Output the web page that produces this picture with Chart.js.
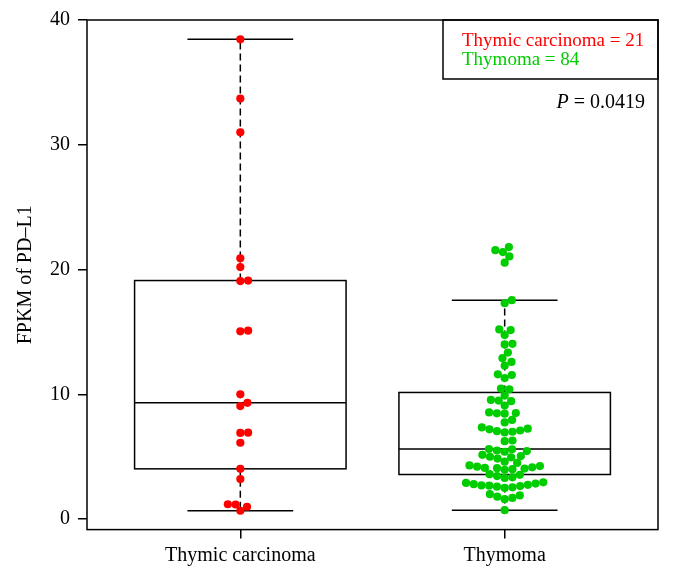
<!DOCTYPE html>
<html><head><meta charset="utf-8">
<script src="https://cdn.jsdelivr.net/npm/chart.js@4"></script>
<style>html,body{margin:0;padding:0;background:#fff}#wrap{width:673px;height:582px;position:relative}</style>
</head><body><div id="wrap"><canvas id="c" width="673" height="582"></canvas></div>
<script>
// ---- data ----
const categories = ["Thymic carcinoma", "Thymoma"];
const carcinomaValues = [38.45, 33.7, 31.0, 20.9, 20.2, 19.12, 19.08, 15.1, 15.05, 10.0,
  9.32, 9.06, 6.93, 6.91, 6.12, 4.03, 3.21, 1.19, 1.17, 0.99, 0.67];
const thymomaValues = [21.8, 21.55, 21.4, 21.05, 20.55,
  17.55, 17.3,
  15.2, 15.15, 14.75, 14.05, 14.0, 13.35, 12.9, 12.6, 12.3,
  11.6, 11.55, 11.3, 10.45, 10.4, 9.9, 9.55, 9.5, 9.45, 9.1,
  8.55, 8.5, 8.48, 8.45, 7.95, 7.75,
  7.35, 7.25, 7.2, 7.1, 7.05, 7.0, 6.95, 6.3, 6.25,
  5.62, 5.6, 5.5, 5.45, 5.4, 5.15, 5.05, 5.0, 4.95, 4.85, 4.6, 4.5,
  4.3, 4.25, 4.2, 4.15, 4.1, 4.08, 4.05, 4.0, 3.95,
  3.6, 3.55, 3.45, 3.35, 3.3,
  2.95, 2.9, 2.85, 2.8, 2.75, 2.7, 2.68, 2.65, 2.6, 2.55, 2.5,
  2.0, 1.9, 1.8, 1.7, 1.6, 0.72];
const yTicks = [0, 10, 20, 30, 40];
const legendLabels = ["Thymic carcinoma = 21", "Thymoma = 84"];
const pValue = "0.0419";
const yTitle = "FPKM of PD\u2013L1";

const groupColors = ["#ff0000", "#00cd00"];
const FONT = "'Liberation Serif', 'DejaVu Serif', serif";

function fivenum(arr) {
  const x = [...arr].sort((a, b) => a - b), n = x.length;
  const n4 = Math.floor((n + 3) / 2) / 2;
  const d = [1, n4, (n + 1) / 2, n + 1 - n4, n];
  return d.map(di => 0.5 * (x[Math.floor(di) - 1] + x[Math.ceil(di) - 1]));
}
function boxStats(arr) {
  const f = fivenum(arr), iqr = f[3] - f[1];
  const lo = Math.min(...arr.filter(v => v >= f[1] - 1.5 * iqr));
  const hi = Math.max(...arr.filter(v => v <= f[3] + 1.5 * iqr));
  return { lo, q1: f[1], med: f[2], q3: f[3], hi };
}
const groups = [carcinomaValues, thymomaValues];
const stats = groups.map(boxStats);

function swarm(values, yPix, d) {
  const order = values.map((v, i) => i).sort((a, b) => values[a] - values[b]);
  const placed = [], off = new Array(values.length);
  for (const i of order) {
    const y = yPix(values[i]);
    const near = placed.filter(p => Math.abs(p.y - y) < d);
    const cands = [0];
    near.forEach(p => cands.push(p.x + Math.sqrt(d * d - (p.y - y) ** 2)));
    near.forEach(p => cands.push(p.x - Math.sqrt(d * d - (p.y - y) ** 2)));
    let best = null;
    for (const c of cands) {
      const ok = near.every(p => (p.x - c) ** 2 + (p.y - y) ** 2 >= d * d - 1e-6);
      if (ok && (best === null || Math.abs(c) < Math.abs(best) - 1e-9)) best = c;
    }
    placed.push({ x: best, y });
    off[i] = best;
  }
  return off;
}

const boxPlugin = {
  id: 'boxes',
  beforeDatasetsDraw(chart) {
    const { ctx, scales: { x, y } } = chart;
    ctx.save();
    ctx.strokeStyle = '#000';
    ctx.lineWidth = 1.5;
    stats.forEach((s, i) => {
      const c = i + 1;
      const xc = x.getPixelForValue(c);
      const xl = x.getPixelForValue(c - 0.4), xr = x.getPixelForValue(c + 0.4);
      const sl = x.getPixelForValue(c - 0.2), sr = x.getPixelForValue(c + 0.2);
      const py = v => y.getPixelForValue(v);
      ctx.setLineDash([7, 4]);
      ctx.beginPath();
      ctx.moveTo(xc, py(s.q3)); ctx.lineTo(xc, py(s.hi));
      ctx.moveTo(xc, py(s.q1)); ctx.lineTo(xc, py(s.lo));
      ctx.stroke();
      ctx.setLineDash([]);
      ctx.beginPath();
      ctx.moveTo(sl, py(s.hi)); ctx.lineTo(sr, py(s.hi));
      ctx.moveTo(sl, py(s.lo)); ctx.lineTo(sr, py(s.lo));
      ctx.stroke();
      ctx.strokeRect(xl, py(s.q3), xr - xl, py(s.q1) - py(s.q3));
      ctx.beginPath();
      ctx.moveTo(xl, py(s.med)); ctx.lineTo(xr, py(s.med));
      ctx.stroke();
    });
    ctx.restore();
  },
  afterDraw(chart) {
    const { ctx, chartArea: a } = chart;
    ctx.save();
    ctx.strokeStyle = '#000';
    ctx.lineWidth = 1.5;
    ctx.strokeRect(a.left, a.top, a.right - a.left, a.bottom - a.top);
    const bw = 215, bh = 59;
    ctx.strokeRect(a.right - bw, a.top, bw, bh);
    ctx.font = "19px " + FONT;
    ctx.textBaseline = 'middle';
    ctx.textAlign = 'left';
    legendLabels.forEach((t, i) => {
      ctx.fillStyle = groupColors[i];
      ctx.fillText(t, a.right - bw + 19, a.top + 21 + i * 19);
    });
    ctx.fillStyle = '#000';
    ctx.font = "20px " + FONT;
    ctx.textAlign = 'right';
    const rest = " = " + pValue;
    const rx = a.right - 13, cy = a.top + 83;
    ctx.fillText(rest, rx, cy);
    const w = ctx.measureText(rest).width;
    ctx.font = "italic 20px " + FONT;
    ctx.fillText("P", rx - w, cy);
    ctx.restore();
  }
};

const chart = new Chart(document.getElementById('c'), {
  type: 'scatter',
  data: {
    datasets: groups.map((g, i) => ({
      data: g.map(v => ({ x: i + 1, y: v })),
      backgroundColor: groupColors[i],
      borderColor: groupColors[i],
      borderWidth: 0,
      pointRadius: 4.1,
      pointHoverRadius: 4.1
    }))
  },
  options: {
    responsive: false,
    animation: false,
    events: [],
    layout: { padding: { top: 20, right: 15, left: 0, bottom: 0 } },
    plugins: { legend: { display: false }, tooltip: { enabled: false } },
    scales: {
      x: {
        type: 'linear', min: 0.42, max: 2.58,
        afterFit: s => { s.height = 52.4; },
        afterBuildTicks: s => { s.ticks = categories.map((c, i) => ({ value: i + 1 })); },
        ticks: {
          callback: (v) => categories[v - 1] || '',
          color: '#000', font: { family: FONT, size: 20 }, padding: 5, maxRotation: 0, autoSkip: false
        },
        grid: { drawOnChartArea: false, drawTicks: true, tickLength: 9, color: '#000', lineWidth: 1.5 },
        border: { display: false }
      },
      y: {
        type: 'linear', min: -0.84, max: 40,
        afterFit: s => { s.width = 87; },
        afterBuildTicks: s => { s.ticks = yTicks.map(v => ({ value: v })); },
        ticks: { color: '#000', font: { family: FONT, size: 20 }, padding: 8 },
        grid: { drawOnChartArea: false, drawTicks: true, tickLength: 9, color: '#000', lineWidth: 1.5 },
        border: { display: false },
        title: { display: true, text: yTitle, color: '#000', font: { family: FONT, size: 20 }, padding: { top: 14, bottom: 0 } }
      }
    }
  },
  plugins: [boxPlugin]
});

(function () {
  const xs = chart.scales.x, ys = chart.scales.y;
  const pxPerUnit = xs.getPixelForValue(2) - xs.getPixelForValue(1);
  groups.forEach((g, i) => {
    const off = swarm(g, v => ys.getPixelForValue(v), 7.8);
    chart.data.datasets[i].data = g.map((v, k) => ({ x: i + 1 + off[k] / pxPerUnit, y: v }));
  });
  chart.update('none');
})();
</script></body></html>
